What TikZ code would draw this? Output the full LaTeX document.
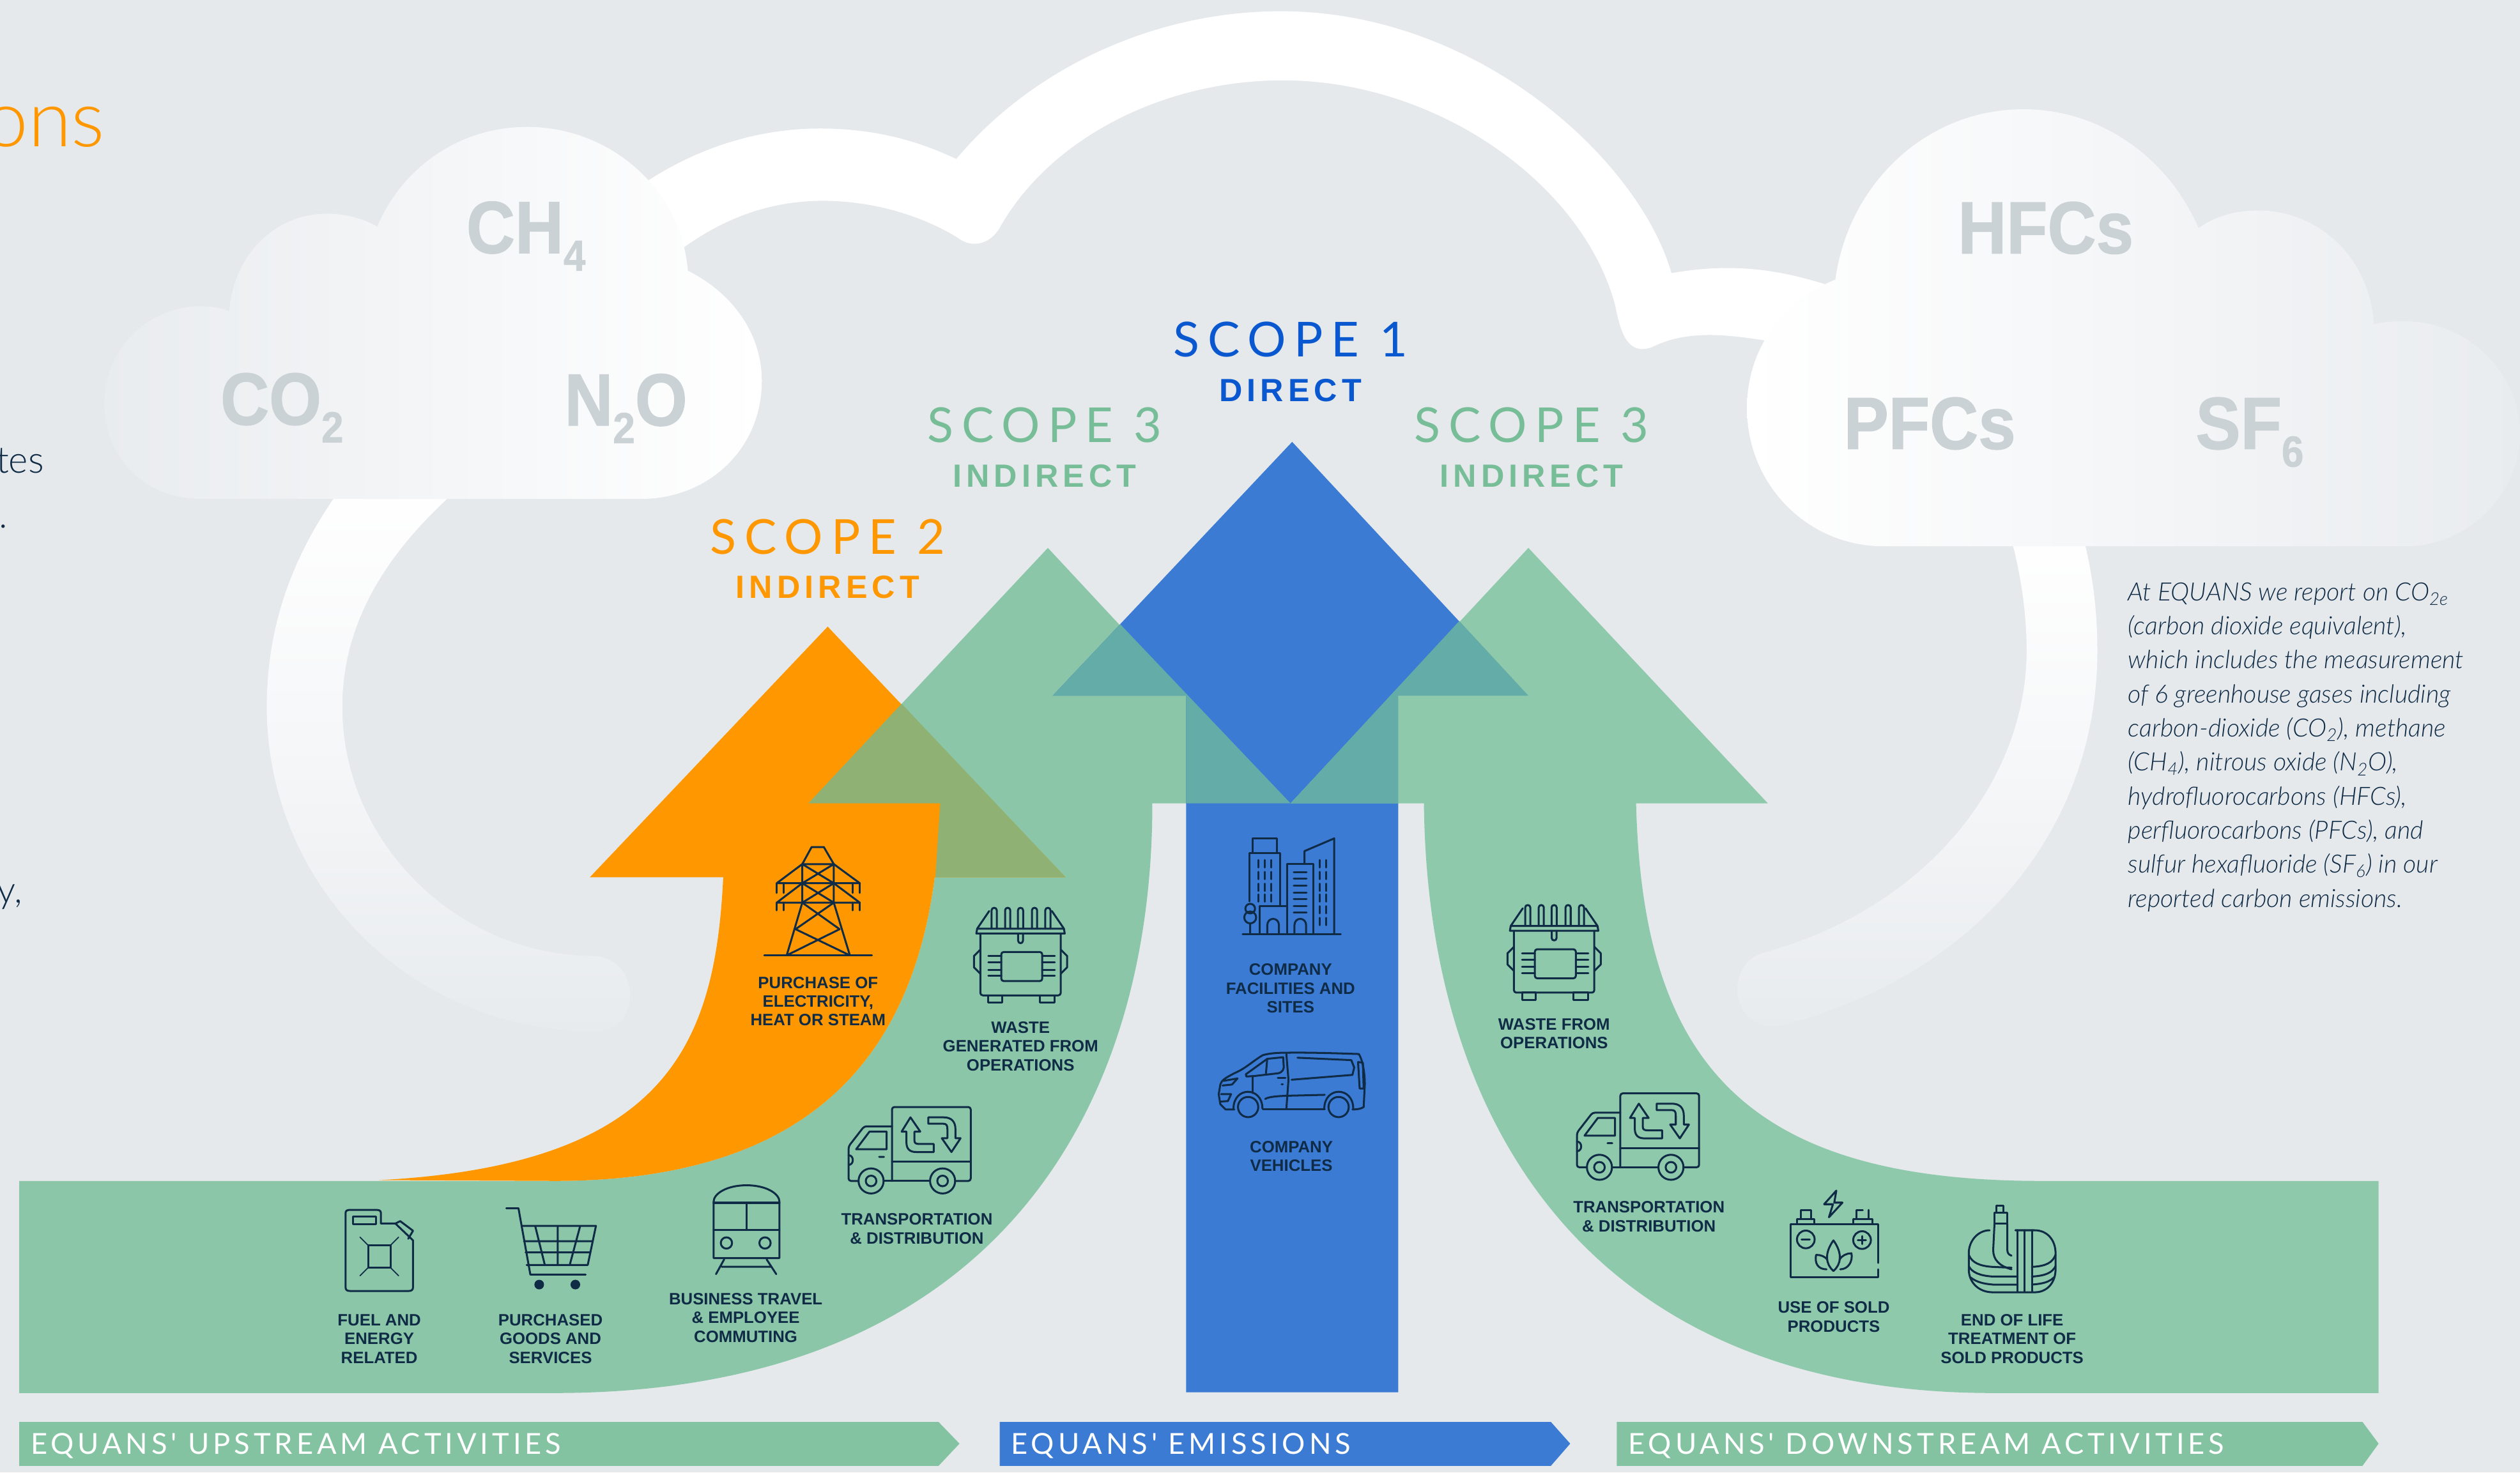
\documentclass[tikz,border=0pt]{standalone}
\usepackage{fontspec}
\usepackage{tikz}
\setmainfont{Liberation Sans}
\newfontfamily\lightfont[ItalicFont={Lato Light Italic}]{Lato Light}
\newfontfamily\plainfont{Lato}
\newfontfamily\gasfont[FakeStretch=.91,FakeBold=1.1]{Liberation Sans Bold}
\definecolor{bgcol}{HTML}{E5E9EC}
\definecolor{greenL}{HTML}{8BC6A8}
\definecolor{greenR}{HTML}{8FC9AB}
\definecolor{bannergreen}{HTML}{84C3A1}
\definecolor{bluecol}{HTML}{3B7BD4}
\definecolor{orangecol}{HTML}{FF9800}
\definecolor{tealcol}{HTML}{63ACA7}
\definecolor{olivecol}{HTML}{8FB274}
\definecolor{navy}{HTML}{0F2B46}
\definecolor{gascol}{HTML}{CBD2D6}
\definecolor{fadecol}{HTML}{E9ECEF}
\definecolor{scopeblue}{HTML}{0A58D0}
\definecolor{scopegreen}{HTML}{77BE98}
\newcommand{\gassub}[1]{\raisebox{-11pt}{\fontsize{27}{27}\selectfont #1}}
\tikzset{
  iconline/.style={draw=navy, line width=1.2pt, line cap=round, line join=round},
  gas/.style={font=\gasfont\fontsize{46}{46}\selectfont, text=gascol, inner sep=0, anchor=base west},
  scopetitle/.style={font=\plainfont\fontsize{30}{30}\selectfont\addfontfeature{LetterSpace=17}, inner sep=0, anchor=base},
  scopekind/.style={font=\bfseries\fontsize{20}{20}\selectfont\addfontfeature{LetterSpace=14}, inner sep=0, anchor=base},
  iconlabel/.style={font=\bfseries\fontsize{10.25}{11.7}\selectfont, text=navy, align=center, inner sep=0},
  bannertext/.style={font=\plainfont\fontsize{18}{18}\selectfont\addfontfeature{LetterSpace=13}, text=white, inner sep=0, anchor=base west},
  dumpster/.pic={
    \draw[iconline] (-19,13) -- (-27,13) -- (-27.5,16) -- (27.5,16) -- (27,13) -- cycle;
    \draw[iconline] (-27,13) -- (-19.5,2) (27,13) -- (19.5,2);
    \draw[iconline] (-18,13) -- (-18,1.5) .. controls (-18,-.5) and (-14.8,-.5) .. (-14.8,1.5) -- (-14.8,13);
    \draw[iconline] (-9.6,13) -- (-9.6,1.5) .. controls (-9.6,-.5) and (-6.4,-.5) .. (-6.4,1.5) -- (-6.4,13);
    \draw[iconline] (-1.6,13) -- (-1.6,1.5) .. controls (-1.6,-.5) and (1.6,-.5) .. (1.6,1.5) -- (1.6,13);
    \draw[iconline] (7.1,13) -- (7.1,1.5) .. controls (7.1,-.5) and (10.3,-.5) .. (10.3,1.5) -- (10.3,13);
    \draw[iconline] (15.4,13) -- (15.4,1.5) .. controls (15.4,-.5) and (18.6,-.5) .. (18.6,1.5) -- (18.6,13);
    \draw[iconline, rounded corners=1.5pt] (-25,16) -- (-25,54.5) -- (25,54.5) -- (25,16);
    \draw[iconline] (-20,54.5) rectangle (-11.4,59) (12,54.5) rectangle (21,59);
    \draw[iconline] (-25,26) -- (-29,30) -- (-29,37) -- (-25,41) (25,26) -- (29,30) -- (29,37) -- (25,41);
    \draw[iconline, rounded corners=1.5pt] (-12,27.5) rectangle (13.5,45.6);
    \draw[iconline] (-20,30) -- (-12,30) (-20,34) -- (-12,34) (-20,38.5) -- (-12,38.5) (-20,42.4) -- (-12,42.4);
    \draw[iconline] (13.5,30) -- (21.3,30) (13.5,34) -- (21.3,34) (13.5,38.5) -- (21.3,38.5) (13.5,42.4) -- (21.3,42.4);
    \draw[iconline] (-1.5,16) -- (-1.5,20.5) .. controls (-1.5,22.5) and (1.5,22.5) .. (1.5,20.5) -- (1.5,16);
  },
  truck/.pic={
    \draw[iconline, rounded corners=1.5pt] (0,46) -- (0,0) -- (49,0) -- (49,46) -- (39.3,46);
    \draw[iconline] (0,34) -- (49,34) (-5.2,46) -- (23.7,46);
    \draw[iconline, rounded corners=1.5pt] (-20.8,46) -- (-27,46) -- (-27,24.5) -- (-17.3,12) -- (0,12);
    \draw[iconline] (-22.3,26.3) -- (-14,15.3) -- (-3.3,15.3) -- (-3.3,26.3) -- cycle;
    \draw[iconline] (-27,30) .. controls (-23.5,30) and (-23.5,36) .. (-27,36) (-8,31) -- (-5,31);
    \draw[iconline] (-13,46) circle (7.8) (-13,46) circle (3.3) (31.5,46) circle (7.8) (31.5,46) circle (3.3);
    \draw[iconline] (11.5,6.4) -- (17.6,15.3) -- (14,15.3) -- (14,21) .. controls (14,22.5) and (15,23) .. (17,23) -- (26,23) -- (26,28) -- (15,28) .. controls (11,28) and (9,26) .. (9,22) -- (9,15.3) -- (6,15.3) -- cycle;
    \draw[iconline] (22.6,6.4) -- (32,6.4) .. controls (37,6.4) and (39.5,9) .. (39.5,14) -- (39.5,19.4) -- (42.7,19.4) -- (37,28) -- (31,19.4) -- (34.5,19.4) -- (34.5,14) .. controls (34.5,11.5) and (34,10.4) .. (32,10.4) -- (22.6,10.4) -- cycle;
  }
}
\begin{document}
\begin{tikzpicture}[x=1pt, y=-1pt]
\useasboundingbox (0,0) rectangle (1568,916.4);
\fill[bgcol] (0,0) rectangle (1568,916.4);

\fill[white] (395,118) .. controls (430,93) and (470,80) .. (510,80) .. controls (545,80) and (572,88) .. (595,99) .. controls (640,45) and (715,7) .. (797,7) .. controls (920,7) and (1020,100) .. (1040,170) .. controls (1080,163) and (1110,168) .. (1145,180) -- (1105,213) .. controls (1075,208) and (1050,205) .. (1028,216) .. controls (1012,222) and (1008,205) .. (1005,190) .. controls (985,115) and (895,50) .. (798,50) .. controls (725,50) and (655,85) .. (623,140) .. controls (617,152) and (605,155) .. (596,148) .. controls (575,135) and (545,125) .. (512,125) .. controls (480,125) and (450,135) .. (420,158) -- cycle;
\shade[top color=white, bottom color=fadecol!70!bgcol, middle color=white!55!fadecol] (215,300) .. controls (185,340) and (166,385) .. (166,440) .. controls (166,550) and (255,642) .. (370,642) .. controls (385,642) and (392,632) .. (392,619) .. controls (392,606) and (383,596) .. (370,595) .. controls (285,595) and (213,525) .. (213,440) .. controls (213,385) and (243,340) .. (290,300) -- cycle;
\shade[top color=white, bottom color=fadecol!70!bgcol, middle color=white!55!fadecol] (1250,330) .. controls (1257,355) and (1261,380) .. (1261,405) .. controls (1261,485) and (1200,565) .. (1097,593) .. controls (1087,596) and (1081,605) .. (1081,616) .. controls (1081,630) and (1092,640) .. (1105,639) .. controls (1225,610) and (1305,520) .. (1305,405) .. controls (1305,380) and (1302,355) .. (1295,330) -- cycle;

\shade[left color=fadecol, right color=white] (125,310.5) .. controls (90,310.5) and (65,285) .. (65,251) .. controls (65,217) and (92,190.6) .. (125,190.6) .. controls (132,190.6) and (137,191.5) .. (142.7,193.6) .. controls (145,160) and (170,133) .. (203.4,133) .. controls (215,133) and (226,136) .. (234.7,141) .. controls (250,105) and (285,79) .. (328,79) .. controls (380,79) and (424,118) .. (428,168.5) .. controls (455,182) and (474,207) .. (474,237) .. controls (474,280) and (440,310.5) .. (399,310.5) -- cycle;
\shade[left color=white, right color=fadecol] (1172,340) .. controls (1125,340) and (1087,302) .. (1087,254) .. controls (1087,218) and (1108,188) .. (1142,174) .. controls (1150,115) and (1198,68) .. (1259,68) .. controls (1307,68) and (1349,98) .. (1368,142) .. controls (1379,134) and (1392,131) .. (1405,131) .. controls (1444,131) and (1475,162) .. (1477,202) .. controls (1483,200) and (1490,200) .. (1497,200) .. controls (1535,200) and (1568,232) .. (1568,270) .. controls (1568,308) and (1535,340) .. (1497,340) -- cycle;

\node[gas] (co2) at (137,264.3) {CO\gassub{2}};
\node[gas] (ch4) at (290,157.5) {CH\gassub{4}};
\node[gas] (n2o) at (351,264.8) {N\gassub{2}O};
\node[gas] (hfcs) at (1218,157.7) {HFCs};
\node[gas] (pfcs) at (1147,279.4) {PFCs};
\node[gas] (sf6) at (1366,279.4) {SF\gassub{6}};

\fill[greenL] (652,341) -- (800,500) -- (717,500) .. controls (717,690) and (620,867) .. (345,867) -- (12,867) -- (12,735) -- (345,735) .. controls (530,735) and (582,630) .. (585,500) -- (503,500) -- cycle;
\fill[orangecol] (515,390) -- (663,546) -- (367,546) -- cycle;
\fill[orangecol] (450,546) .. controls (445,650) and (415,725) .. (236,734.5) -- (345,735) .. controls (530,735) and (582,630) .. (585,500) -- cycle;
\fill[olivecol] (561,438) -- (663,546) -- (582,546) -- (585,500) -- (503,500) -- cycle;
\fill[bluecol] (804,275) -- (951,433) -- (870,433) -- (870,866.5) -- (738,866.5) -- (738,433) -- (655,433) -- cycle;
\fill[greenR] (951,341) -- (1100,500) -- (1018,500) .. controls (1022,660) and (1085,735) .. (1270,735) -- (1480,735) -- (1480,867) -- (1240,867) .. controls (990,867) and (888,700) .. (886,500) -- (803,500) -- cycle;
\fill[tealcol] (697,388.5) -- (803,500) -- (738,500) -- (738,433) -- (655,433) -- cycle;
\fill[tealcol] (908,386.5) -- (951,433) -- (870,433) -- (870,500) -- (803,500) -- cycle;

\fill[bannergreen] (12,885) -- (584,885) -- (597,898.5) -- (584,912.3) -- (12,912.3) -- cycle;
\fill[bluecol] (622,885) -- (965,885) -- (977,898.5) -- (965,912.3) -- (622,912.3) -- cycle;
\fill[bannergreen] (1006,885) -- (1470,885) -- (1480,898.5) -- (1470,912.3) -- (1006,912.3) -- cycle;
\node[bannertext] (up) at (19,905) {EQUANS' UPSTREAM ACTIVITIES};
\node[bannertext] (own) at (629,905) {EQUANS' EMISSIONS};
\node[bannertext] (down) at (1013,905) {EQUANS' DOWNSTREAM ACTIVITIES};

\node[scopetitle, text=scopeblue] (s1) at (803,222) {SCOPE 1};
\node[scopekind, text=scopeblue] (d1) at (803,249.7) {DIRECT};
\node[scopetitle, text=scopegreen] (s3a) at (650,275.2) {SCOPE 3};
\node[scopekind, text=scopegreen] (i3a) at (650,303) {INDIRECT};
\node[scopetitle, text=scopegreen] (s3b) at (953,275.2) {SCOPE 3};
\node[scopekind, text=scopegreen] (i3b) at (953,303) {INDIRECT};
\node[scopetitle, text=orangecol] (s2) at (515,345) {SCOPE 2};
\node[scopekind, text=orangecol] (i2) at (515,372.5) {INDIRECT};

\node[font=\lightfont\fontsize{49}{49}\selectfont, text=orangecol, inner sep=0, anchor=base east] (ons) at (65.5,91.3) {ons};
\node[font=\lightfont\fontsize{23}{23}\selectfont, text=navy, inner sep=0, anchor=base east] (tes) at (27.5,294.4) {tes};
\node[font=\lightfont\fontsize{23}{23}\selectfont, text=navy, inner sep=0, anchor=base east] (dot) at (5,328.7) {.};
\node[font=\lightfont\fontsize{23}{23}\selectfont, text=navy, inner sep=0, anchor=base east] (ycomma) at (14,562) {y,};

\node[font=\lightfont\itshape\fontsize{15.7}{21.2}\selectfont, text=navy, align=left, inner sep=0, anchor=north west] (note) at (1324,362.3) {At EQUANS we report on CO\textsubscript{2e}\\(carbon dioxide equivalent),\\which includes the measurement\\of 6 greenhouse gases including\\carbon-dioxide (CO\textsubscript{2}), methane\\(CH\textsubscript{4}), nitrous oxide (N\textsubscript{2}O),\\hydrofluorocarbons (HFCs),\\perfluorocarbons (PFCs), and\\sulfur hexafluoride (SF\textsubscript{6}) in our\\reported carbon emissions.};

\draw[iconline] (215,755) -- (215,801) .. controls (215,803) and (216,803.5) .. (218,803.5) -- (254,803.5) .. controls (256,803.5) and (257,803) .. (257,801) -- (257,772) -- (246,761.5) -- (237,761.5) -- (237,755) .. controls (237,753.5) and (236,753) .. (234,753) -- (218,753) .. controls (216,753) and (215,753.5) .. (215,755);
\draw[iconline] (246,761.5) -- (249,760) -- (257,766) -- (254,771);
\draw[iconline] (219.5,757) rectangle (234,762);
\draw[iconline] (229,775) rectangle (243,789);
\draw[iconline, line width=.7pt] (224,770) -- (229,775) (248,770) -- (243,775) (224,794) -- (229,789) (248,794) -- (243,789);

\draw[iconline] (315,752) -- (322.6,752) -- (330,793.3) -- (364.4,793.3);
\draw[iconline] (324.7,763) -- (370.8,763) -- (365.7,787.3) -- (327.7,787.3);
\draw[iconline] (326,772.5) -- (368.8,772.5) (327,779.5) -- (367.3,779.5) (347,763) -- (347,787.3) (333,763) -- (339,787.3) (361,763) -- (354.5,787.3);
\fill[navy] (335.5,799.5) circle (3) (358,799.5) circle (3);

\draw[iconline] (444,783) -- (444,748) .. controls (444,743) and (452,737.7) .. (464.5,737.7) .. controls (477,737.7) and (485,743) .. (485,748) -- (485,783) -- cycle;
\draw[iconline] (444,748.6) -- (485,748.6) (444,765.5) -- (485,765.5) (464.4,748.6) -- (464.4,765.5);
\draw[iconline] (452,773.6) circle (3.5) (476,773.6) circle (3.5);
\draw[iconline] (450.6,783.8) -- (445.5,793) (477,783.8) -- (483,793) (449,788.4) -- (480,788.4);

\pic (truckA) at (555,689) {truck};
\pic (dumpA) at (635,565) {dumpster};

\draw[iconline] (475.5,594.6) -- (542.5,594.6);
\draw[iconline] (505,527.2) -- (512.6,527.2) -- (518.8,537.8) -- (499.2,537.8) -- cycle;
\draw[iconline] (499.2,537.8) -- (483.3,549.7) -- (535,549.7) -- (518.8,537.8);
\draw[iconline] (499.2,549.7) -- (483.3,561.8) -- (535,561.8) -- (518.8,549.7);
\draw[iconline] (499.2,537.8) -- (499.2,561.8) (518.8,537.8) -- (518.8,561.8) (499.2,537.8) -- (518.8,549.7) (518.8,537.8) -- (499.2,549.7) (499.2,549.7) -- (518.8,561.8) (518.8,549.7) -- (499.2,561.8);
\draw[iconline] (483.3,549.7) -- (483.3,555.7) (487.5,549.7) -- (487.5,555.7) (530.7,549.7) -- (530.7,555.7) (535,549.7) -- (535,555.7);
\draw[iconline] (483.3,561.8) -- (483.3,566.6) (487.5,561.8) -- (487.5,566.6) (530.7,561.8) -- (530.7,566.6) (535,561.8) -- (535,566.6);
\draw[iconline] (499.2,561.8) -- (489.5,594.6) (518.8,561.8) -- (528.8,594.6);
\draw[iconline] (499.2,561.8) -- (522.4,578.3) (518.8,561.8) -- (495,578.3) (495,578.3) -- (528.8,594.6) (522.4,578.3) -- (489.5,594.6);

\draw[iconline] (773.2,581.4) -- (834.2,581.4);
\draw[iconline] (779.6,530.8) -- (779.6,521.6) -- (794.5,521.6) -- (794.5,530.8);
\draw[iconline] (777.5,561) -- (777.5,530.8) -- (796.4,530.8) -- (796.4,564);
\draw[iconline] (783.8,581.4) -- (783.8,564) -- (800.4,564);
\draw[iconline] (800.8,581.4) -- (800.8,537.8) -- (817,537.8) -- (817,581.4);
\draw[iconline] (811.7,537.8) -- (811.7,529.7) -- (830.2,521.8) -- (830.2,581.4);
\draw[iconline] (788.5,581.4) -- (788.5,576) .. controls (788.5,570.5) and (795.8,570.5) .. (795.8,576) -- (795.8,581.4);
\draw[iconline] (805.4,581.4) -- (805.4,576) .. controls (805.4,570.5) and (812.7,570.5) .. (812.7,576) -- (812.7,581.4);
\draw[iconline] (777.9,565.5) circle (3) (777.9,571) circle (3.7) (777.9,574.7) -- (777.9,581.4);
\draw[iconline] (783,535.3) -- (783,539.9) (787,535.3) -- (787,539.9) (791,535.3) -- (791,539.9) (783,542.6) -- (783,547.2) (787,542.6) -- (787,547.2) (791,542.6) -- (791,547.2) (783,550) -- (783,554.5) (787,550) -- (787,554.5) (791,550) -- (791,554.5) (783,556.6) -- (783,561.2) (787,556.6) -- (787,561.2) (791,556.6) -- (791,561.2);
\draw[iconline] (805,543) -- (813,543) (805,547) -- (813,547) (805,551.3) -- (813,551.3) (805,555.4) -- (813,555.4) (805,559.7) -- (813,559.7) (805,564) -- (813,564) (805,568) -- (813,568);
\draw[iconline] (821,535.3) -- (821,539.9) (825,535.3) -- (825,539.9) (821,542.6) -- (821,547.2) (825,542.6) -- (825,547.2) (821,550) -- (821,554.5) (825,550) -- (825,554.5) (821,556.6) -- (821,561.2) (825,556.6) -- (825,561.2) (821,564) -- (821,568.5) (825,564) -- (825,568.5) (821,571.2) -- (821,575.8) (825,571.2) -- (825,575.8);

\draw[iconline] (768,690.5) -- (762.6,690.5) -- (759.3,687.2) -- (758.3,681) -- (759.3,675) .. controls (760,672.5) and (762,671) .. (768.6,667.7) .. controls (775,665) and (780,660) .. (785.8,656.7) .. controls (790,655.5) and (795,655.2) .. (800.4,655.2) .. controls (815,655) and (830,655.5) .. (845.5,656) .. controls (848,660) and (849.2,668) .. (849.2,675) -- (848.5,689) .. controls (847,690) and (845,690.5) .. (841.5,690.5);
\draw[iconline] (785.8,690.5) -- (824.3,690.5);
\draw[iconline] (776.6,689) circle (6.3) (832.9,689) circle (6.3);
\draw[iconline] (767.5,690) .. controls (767.5,676) and (785.5,676) .. (785.5,690);
\draw[iconline] (824,690) .. controls (824,676) and (842,676) .. (842,690);
\draw[iconline] (775.2,668.6) -- (788.5,659) -- (798.4,658) -- (798.8,664.4) .. controls (798.5,667) and (796,668) .. (795.1,668) -- (780.5,669.7) -- (775.5,670) -- cycle;
\draw[iconline] (788.5,659) -- (787.7,668);
\draw[iconline] (800.4,656) -- (801.7,672) -- (800.4,690.2);
\draw[iconline] (779.6,669.7) -- (779.6,680.3);
\draw[iconline] (807.3,658.3) -- (840.8,659.8) -- (842.6,664.4) -- (841.5,669) -- (803.7,672);
\draw[iconline] (787.2,684) .. controls (789,682.8) and (793,682.3) .. (800,682) -- (824.3,681.4);
\draw[iconline] (845,661) -- (848,661.4) -- (848.5,677.5) -- (846,677.5) -- cycle;
\draw[iconline] (761.3,672.7) -- (770,671.2) -- (766.6,675) -- (760.7,675.6);
\draw[iconline] (759.7,681) -- (766,681) -- (764,685.3) -- (759.3,685.6);
\draw[iconline] (795.1,670.8) -- (799.8,670.8) (797.5,674.7) -- (798.2,674.7);

\pic (dumpB) at (967,563.3) {dumpster};
\pic (truckB) at (1008.2,680.5) {truck};

\draw[iconline] (1168.5,786) -- (1168.5,762) -- (1114,762) -- (1114,795) -- (1168.5,795) -- (1168.5,790);
\draw[iconline] (1118,762) -- (1118,758.7) -- (1129,758.7) -- (1129,762) (1120.5,758.7) -- (1120.5,753) -- (1127,753) -- (1127,758.7);
\draw[iconline] (1153,762) -- (1153,758.7) -- (1165,758.7) -- (1165,762) (1155,758.7) -- (1155,753) -- (1159,753) (1162.5,753) -- (1162.5,758.7);
\draw[iconline] (1142.6,741) -- (1135,749.5) -- (1140.5,749.5) -- (1138,757.6) -- (1146.4,748.5) -- (1141.3,748.5) -- cycle;
\draw[iconline] (1123.6,771.4) circle (5.5) (1158.6,771.8) circle (5.5);
\draw[iconline] (1121,771.4) -- (1126,771.4) (1156,771.8) -- (1161,771.8) (1158.6,769.3) -- (1158.6,774.3);
\draw[iconline] (1140.8,772) .. controls (1135,780) and (1136,787) .. (1140.8,791) .. controls (1145.6,787) and (1146.6,780) .. (1140.8,772) -- cycle;
\draw[iconline] (1136.5,790) .. controls (1131,790) and (1129,786) .. (1130,781) .. controls (1133,781) and (1135.5,782) .. (1137,784);
\draw[iconline] (1145,790) .. controls (1150,790) and (1153,785) .. (1152,780) .. controls (1149,780) and (1146,781.5) .. (1144.5,784);

\draw[iconline] (1241,761.7) rectangle (1249,754.6) (1242,754.6) rectangle (1246.6,750.5);
\draw[iconline] (1238,765.7) .. controls (1231,765.7) and (1225,772) .. (1225,780) -- (1225,790) .. controls (1225,798) and (1231,804.3) .. (1240,804.3) -- (1266,804.3) .. controls (1274,804.3) and (1279,798) .. (1279,790) -- (1279,780) .. controls (1279,772) and (1274,765.7) .. (1266,765.7) -- (1254,765.7);
\draw[iconline] (1241,761.7) -- (1240.2,778) .. controls (1240.2,784) and (1244,788) .. (1251.6,790) (1249,761.7) -- (1249,778) .. controls (1249,780) and (1250,781) .. (1251.6,781.5);
\draw[iconline] (1255.4,765.7) -- (1255.4,804) (1259.7,765.7) -- (1259.7,804) (1264.3,765.7) -- (1264.3,804);
\draw[iconline] (1225,781) .. controls (1227,786) and (1232,788) .. (1240,788.5) -- (1251.6,789) (1225,788) .. controls (1227,792) and (1232,794) .. (1240,794.5) -- (1255.4,794.5) (1226,795) .. controls (1230,798) and (1234,799) .. (1240,799.5) -- (1255.4,799.5);
\draw[iconline] (1279,781) .. controls (1277,786) and (1273,788) .. (1264.3,788.5) (1279,788) .. controls (1277,792) and (1273,794) .. (1264.3,794.5) (1278,795) .. controls (1275,798) and (1271,799) .. (1264.3,799.5);

\node[iconlabel] (fuel) at (236,833.2) {FUEL AND\\ENERGY\\RELATED};
\node[iconlabel] (goods) at (342.5,833.2) {PURCHASED\\GOODS AND\\SERVICES};
\node[iconlabel] (travel) at (464,820.2) {BUSINESS TRAVEL\\\& EMPLOYEE\\COMMUTING};
\node[iconlabel] (distA) at (570.5,764.7) {TRANSPORTATION\\\& DISTRIBUTION};
\node[iconlabel] (wasteA) at (635,651.2) {WASTE\\GENERATED FROM\\OPERATIONS};
\node[iconlabel] (power) at (509,623.2) {PURCHASE OF\\ELECTRICITY,\\HEAT OR STEAM};
\node[iconlabel] (sites) at (803,615.2) {COMPANY\\FACILITIES AND\\SITES};
\node[iconlabel] (fleet) at (803.5,719.7) {COMPANY\\VEHICLES};
\node[iconlabel] (wasteB) at (967,643.2) {WASTE FROM\\OPERATIONS};
\node[iconlabel] (distB) at (1026,757.2) {TRANSPORTATION\\\& DISTRIBUTION};
\node[iconlabel] (sold) at (1141,819.7) {USE OF SOLD\\PRODUCTS};
\node[iconlabel] (eol) at (1252,833.2) {END OF LIFE\\TREATMENT OF\\SOLD PRODUCTS};
\end{tikzpicture}
\end{document}
